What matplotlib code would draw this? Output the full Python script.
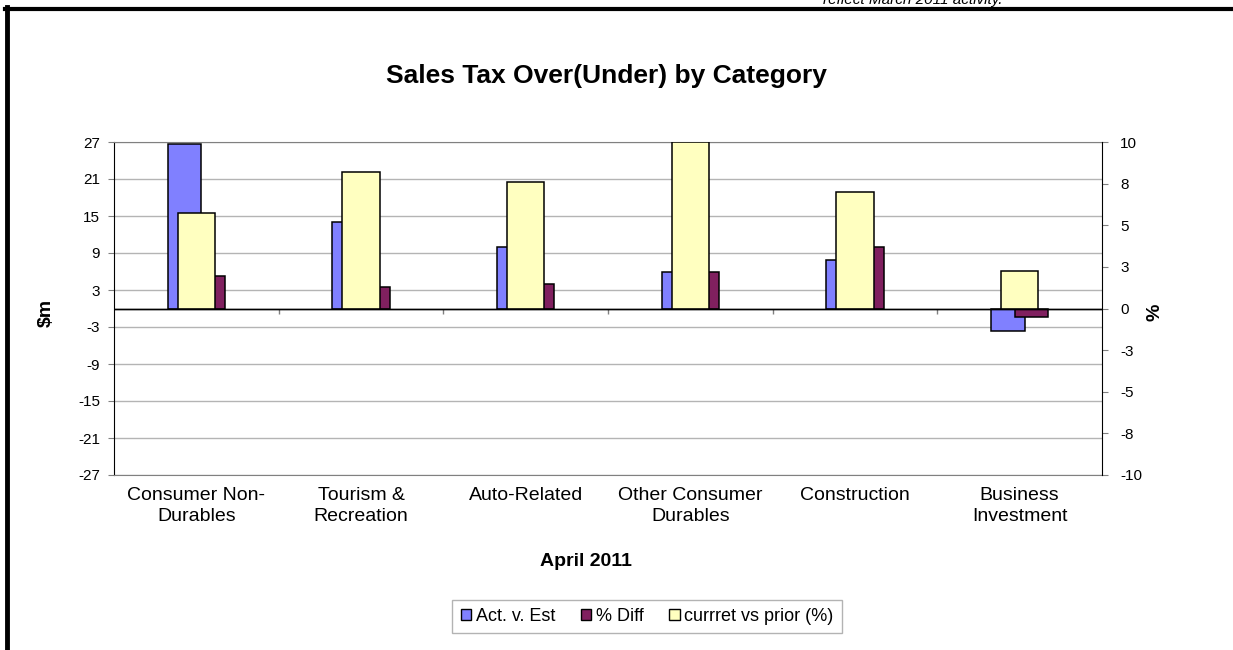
import numpy as np
import matplotlib
matplotlib.use('Agg')
import matplotlib.pyplot as plt
from matplotlib.ticker import FuncFormatter
from matplotlib.patches import Patch

plt.rcParams['font.family'] = ['Liberation Sans', 'DejaVu Sans']
plt.rcParams['axes.unicode_minus'] = False

# Data
categories = ['Consumer Non-\nDurables', 'Tourism &\nRecreation', 'Auto-Related',
              'Other Consumer\nDurables', 'Construction', 'Business\nInvestment']
act_v_est = [26.6, 14.1, 10.0, 6.0, 7.8, -3.7]          # $m, primary axis
pct_diff = [5.3, 3.5, 3.9, 5.9, 9.9, -1.3]             # primary axis
curr_vs_prior = [5.75, 8.2, 7.6, 10.0, 7.0, 2.25]      # %, secondary axis
left_ticks = list(range(-27, 28, 6))
right_ticks = [-10, -7.5, -5, -2.5, 0, 2.5, 5, 7.5, 10]

blue = '#8080FF'
maroon = '#80205F'
yellow = '#FFFFC0'
grid_gray = '#B4B4B4'
tick_gray = '#808080'

fig = plt.figure(figsize=(12.33, 6.5), dpi=100)
ax = fig.add_axes([114 / 1233, 1 - 475 / 650, (1102 - 114) / 1233, (475 - 142) / 650])
ax2 = ax.twinx()

x = np.arange(len(categories))
bw = 0.206
off = 0.072

ax.set_axisbelow(True)
ax.bar(x - off, act_v_est, bw, color=blue, edgecolor='black', linewidth=1.1, zorder=2)
ax.bar(x + off, pct_diff, bw, color=maroon, edgecolor='black', linewidth=1.1, zorder=3)
ax2.bar(x, curr_vs_prior, 0.225, color=yellow, edgecolor='black', linewidth=1.1, zorder=2)

ax.set_xlim(-0.5, len(categories) - 0.5)
ax.set_ylim(-27, 27)
ax2.set_ylim(-10, 10)

# gridlines and zero line
ax.set_yticks(left_ticks)
ax.yaxis.grid(True, color=grid_gray, linewidth=1)
ax.axhline(0, color='black', linewidth=1, zorder=4)
ax2.axhline(0, color='black', linewidth=1, zorder=4)

# small category tick marks below zero line
bounds = np.arange(0.5, len(categories) - 0.5, 1)
ax.vlines(bounds, -0.9, 0, color=tick_gray, linewidth=1, zorder=1)

ax.set_xticks(x)
ax.set_xticklabels(categories, fontsize=14, linespacing=1.3)
ax.tick_params(axis='x', length=0, pad=8.5)
ax.tick_params(axis='y', labelsize=11, color=tick_gray, length=4, pad=6)

def excel_round(v, pos):
    r = np.sign(v) * np.floor(abs(v) + 0.5)
    return '%d' % r

ax2.set_yticks(right_ticks)
ax2.yaxis.set_major_formatter(FuncFormatter(excel_round))
ax2.tick_params(axis='y', labelsize=11, color=tick_gray, length=4, pad=9)

for s in ['top', 'bottom']:
    ax.spines[s].set_color(tick_gray)
ax.spines['left'].set_color('black')
ax.spines['right'].set_visible(False)
for s in ['top', 'bottom', 'left']:
    ax2.spines[s].set_visible(False)
ax2.spines['right'].set_color('black')

# titles and labels
fig.text(606.5 / 1233, 1 - 83 / 650, 'Sales Tax Over(Under) by Category',
         fontsize=19, fontweight='bold', ha='center', va='baseline')
fig.text(586 / 1233, 1 - 562 / 650, 'April 2011', fontsize=14, fontweight='bold',
         ha='center', va='center')
fig.text(46.5 / 1233, 1 - 313 / 650, '$m', fontsize=14, fontweight='bold',
         rotation=90, ha='center', va='center')
fig.text(1155 / 1233, 1 - 312 / 650, '%', fontsize=14, fontweight='bold',
         rotation=90, ha='center', va='center')

# cut-off note at the very top
fig.text(823 / 1233, 1 - 4 / 650, 'reflect March 2011 activity.', fontsize=11,
         style='italic', ha='left', va='baseline')

# thick frame on top and left
fig.add_artist(plt.Line2D([5 / 1233, 1], [1 - 9 / 650, 1 - 9 / 650], color='black',
                          linewidth=3, transform=fig.transFigure))
fig.add_artist(plt.Line2D([7 / 1233, 7 / 1233], [0, 1 - 7 / 650], color='black',
                          linewidth=3.5, transform=fig.transFigure))

handles = [Patch(facecolor=blue, edgecolor='black', linewidth=1),
           Patch(facecolor=maroon, edgecolor='black', linewidth=1),
           Patch(facecolor=yellow, edgecolor='black', linewidth=1)]
leg = fig.legend(handles, ['Act. v. Est', '% Diff', 'currret vs prior (%)'],
                 loc='center', bbox_to_anchor=(647 / 1233, 1 - 616.5 / 650),
                 ncol=3, fontsize=13, frameon=True, fancybox=False,
                 handlelength=0.6, handleheight=0.6, handletextpad=0.25,
                 columnspacing=1.4, borderpad=0.45)
leg.get_frame().set_edgecolor('#A0A0A0')
leg.get_frame().set_linewidth(1)

fig.savefig('out.png', dpi=100)
